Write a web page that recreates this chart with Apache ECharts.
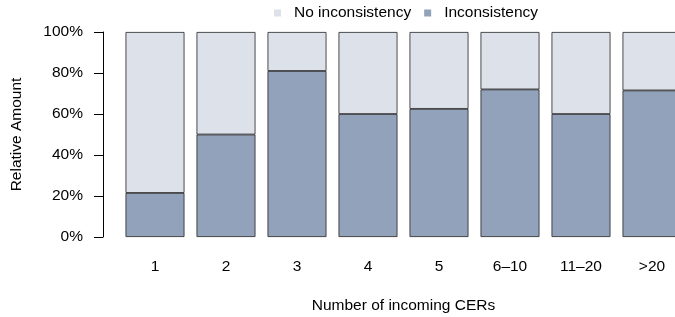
<!DOCTYPE html>
<html>
<head>
<meta charset="utf-8">
<script src="https://cdn.jsdelivr.net/npm/echarts@6/dist/echarts.min.js"></script>
<style>
  html, body { margin: 0; padding: 0; background: #fff; }
  #chart { width: 675px; height: 317px; }
</style>
</head>
<body>
<div id="chart"></div>
<script>
var categories = ['1', '2', '3', '4', '5', '6\u201310', '11\u201320', '>20'];
var inconsistency = [21.5, 50, 81, 60, 62.5, 72, 60, 71.5];
var noInconsistency = [78.5, 50, 19, 40, 37.5, 28, 40, 28.5];
var yTicks = [0, 20, 40, 60, 80, 100];

var chartDom = document.getElementById('chart');
var myChart = echarts.init(chartDom);
var option;

var font = 'Liberation Sans, Arial, sans-serif';
var fs = 15.5;

option = {
  animation: false,
  textStyle: { fontFamily: font },
  legend: {
    left: 269,
    top: 0,
    itemWidth: 7,
    itemHeight: 7,
    itemGap: 13,
    icon: 'rect',
    data: ['No inconsistency', 'Inconsistency'],
    itemStyle: { borderWidth: 0 },
    textStyle: { fontFamily: font, fontSize: fs, color: '#000', padding: [0, 0, 0, 8] }
  },
  grid: {
    left: 119.5,
    right: -12.5,
    top: 32,
    bottom: 80,
    containLabel: false,
    outerBoundsMode: 'none'
  },
  xAxis: {
    type: 'category',
    data: categories,
    axisLine: { show: false },
    axisTick: { show: false },
    axisLabel: { margin: 22, fontSize: fs, color: '#000', fontFamily: font },
    name: 'Number of incoming CERs',
    nameLocation: 'middle',
    nameGap: 61,
    nameTextStyle: { fontSize: fs, color: '#000', fontFamily: font }
  },
  yAxis: {
    type: 'value',
    min: yTicks[0],
    max: yTicks[yTicks.length - 1],
    interval: 20,
    offset: 16.5,
    splitLine: { show: false },
    axisLine: { show: true, lineStyle: { color: '#000', width: 1 } },
    axisTick: { show: true, length: 9, lineStyle: { color: '#000' } },
    axisLabel: { margin: 20, fontSize: fs, color: '#000', fontFamily: font, formatter: '{value}%' },
    name: 'Relative Amount',
    nameLocation: 'middle',
    nameGap: 78,
    nameTextStyle: { fontSize: fs, color: '#000', fontFamily: font }
  },
  series: [
    {
      name: 'Inconsistency',
      type: 'bar',
      stack: 'total',
      data: inconsistency,
      barCategoryGap: '17%',
      itemStyle: { color: '#93a2bb', borderColor: '#222', borderWidth: 0.8 }
    },
    {
      name: 'No inconsistency',
      type: 'bar',
      stack: 'total',
      data: noInconsistency,
      barCategoryGap: '17%',
      itemStyle: { color: '#dde1ea', borderColor: '#222', borderWidth: 0.8 }
    }
  ]
};

option && myChart.setOption(option);
</script>
</body>
</html>
